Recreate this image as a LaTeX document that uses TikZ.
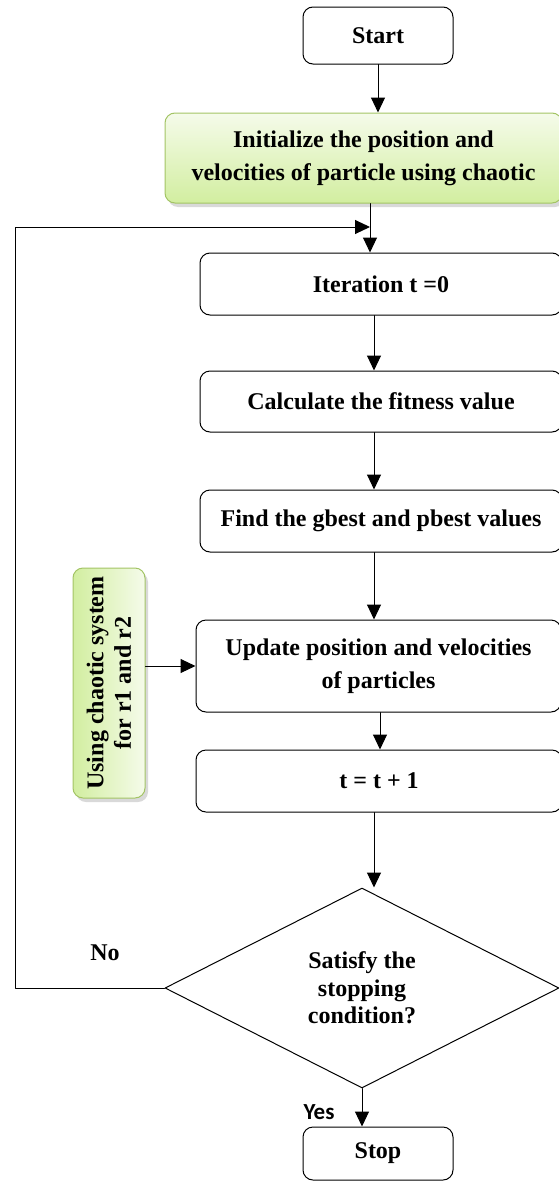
\documentclass[tikz,border=0pt]{standalone}
\usepackage{fontspec}
\setmainfont{Liberation Serif}
\newfontfamily\yesfont{Carlito}
\usetikzlibrary{arrows.meta,shapes.geometric,shadows}
\definecolor{lightgreen}{HTML}{F5FBEA}
\definecolor{midgreen}{HTML}{D2EEA0}
\definecolor{edgegreen}{HTML}{A3C465}

\begin{document}
\begin{tikzpicture}[line cap=round,line join=round,>={Triangle[length=15pt,width=14pt]},x=1pt,y=-1pt,
		every node/.style={font=\fontsize{24}{33}\selectfont\bfseries},
		box/.style={draw,line width=1pt,rounded corners=10pt,align=center,inner sep=0pt},
		greenbox/.style={box,draw=edgegreen,top color=lightgreen,bottom color=midgreen,
			drop shadow={shadow xshift=3pt,shadow yshift=-4pt,opacity=0.3}},
		flow/.style={->,line width=1pt}]
	\useasboundingbox (0,0) rectangle (559,1183);
	\clip (0,0) rectangle (559,1183);
		% boxes
		\node[box,minimum width=150,minimum height=57] (start) at (378,35.5) {Start};
		\node[greenbox,minimum width=397,minimum height=90] (init) at (363.5,158) {Initialize the position and\\velocities of particle using chaotic};
		\node[box,minimum width=362,minimum height=62] (iter) at (381,284) {Iteration t =0};
		\node[box,minimum width=362,minimum height=61] (calc) at (381,401.5) {Calculate the fitness value};
		\node[box,minimum width=362,minimum height=62] (find) at (381,521) {Find the gbest and pbest values};
		\node[box,minimum width=365,minimum height=92] (upd) at (378.5,666) {Update position and velocities\\of particles};
		\node[box,minimum width=366,minimum height=62] (tinc) at (379,781) {t = t + 1};
		\node[draw,line width=1pt,diamond,aspect=2,inner sep=0pt,minimum width=394,minimum height=200,align=center,
			font=\fontsize{24}{27.5}\selectfont\bfseries] (dec) at (362,988) {Satisfy the\\stopping\\condition?};
		\node[box,minimum width=150,minimum height=53] (stop) at (378,1153.5) {Stop};
		\node[greenbox,rotate=90,left color=midgreen,right color=lightgreen,minimum width=230,minimum height=72,
			font=\fontsize{24}{27.5}\selectfont\bfseries] (side) at (109,683) {Using chaotic system\\for r1 and r2};
		% labels
		\node (no) at (105,953) {No};
		\node[font=\yesfont\fontsize{23}{25}\selectfont\bfseries] (yes) at (319,1112) {Yes};
		% connectors
		\coordinate (axis) at (374,0);
		\coordinate (merge) at (370,227);
		\coordinate (corner) at (15,227);
		\draw[flow] (start) -- (start |- init.north);
		\draw[flow] (init.south -| merge) -- (iter.north -| merge);
		\draw[flow] (iter.south -| axis) -- (calc.north -| axis);
		\draw[flow] (calc.south -| axis) -- (find.north -| axis);
		\draw[flow] (find.south -| axis) -- (upd.north -| axis);
		\draw[flow] (upd.south -| 380,0) -- (tinc.north -| 380,0);
		\draw[flow] (tinc.south -| axis) -- (dec.north -| axis);
		\draw[flow] (dec.south) -- (stop.north -| dec.south);
		\draw[flow] (side.south |- upd.west) -- (upd.west);
		\draw[flow] (dec.west) -| (corner) -- (merge);
\end{tikzpicture}
\end{document}
